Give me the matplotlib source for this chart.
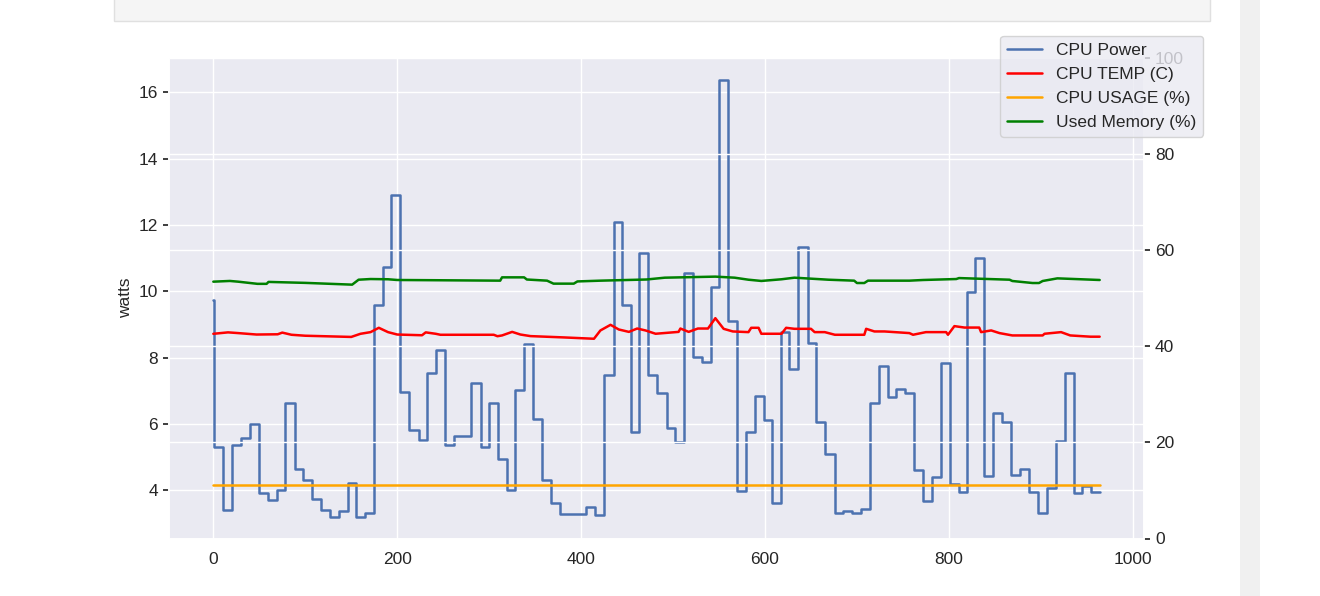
import matplotlib
matplotlib.use('Agg')
import matplotlib.pyplot as plt
import seaborn as sns
from matplotlib.patches import Rectangle

# CPU power (watts), step starts and values
power_x = [0, 1, 10.5, 20.6, 29.6, 40.1, 49.6, 59.4, 69.1, 78.5, 88.6, 98, 107.8,
           117.2, 127, 136.7, 146.1, 155.5, 165.3, 174.7, 184.4, 193.4, 203.5,
           213.3, 223.4, 232.8, 241.8, 251.6, 261.5, 280.6, 290.7, 300.1, 309.5,
           319.6, 328.6, 338.4, 347.8, 357.5, 367.3, 376.7, 405.6, 415.4, 425.2,
           435.3, 444.7, 454.1, 463.5, 472.9, 483, 493.2, 502.6, 512, 521.5,
           531.2, 541, 550.3, 559.4, 569.8, 579.2, 589, 598.7, 608.1, 617.9,
           626.5, 635.9, 646.8, 655.8, 665.6, 675.7, 684.7, 694.9, 704.3, 713.7,
           723.9, 733.6, 742.7, 752.7, 762.1, 771.5, 781.6, 791, 800.8, 810.6,
           819.6, 828.6, 838.4, 848.2, 857.5, 867.7, 877.1, 887.2, 896.6, 906.4,
           916.5, 925.9, 935.7, 945, 954.5, 964]
power_w = [9.73, 5.30, 3.40, 5.35, 5.58, 6.00, 3.90, 3.70, 4.00, 6.63, 4.64, 4.30,
           3.72, 3.40, 3.20, 3.38, 4.22, 3.20, 3.30, 9.58, 10.74, 12.92, 6.95,
           5.80, 5.50, 7.54, 8.23, 5.35, 5.62, 7.24, 5.30, 6.63, 4.95, 4.00, 7.03,
           8.41, 6.16, 4.30, 3.62, 3.28, 3.50, 3.25, 7.46, 12.09, 9.58, 5.75,
           11.15, 7.46, 6.94, 5.89, 5.44, 10.54, 8.03, 7.86, 10.14, 16.38, 9.09,
           3.97, 5.75, 6.83, 6.13, 3.62, 8.76, 7.66, 11.35, 8.43, 6.05, 5.10,
           3.30, 3.38, 3.32, 3.42, 6.63, 7.74, 6.81, 7.06, 6.93, 4.62, 3.68, 4.40,
           7.84, 4.18, 3.95, 9.98, 11.00, 4.43, 6.34, 6.05, 4.45, 4.65, 3.95, 3.32,
           4.05, 5.48, 7.54, 3.92, 4.12, 3.95, 3.95]

# CPU temperature (C)
temp_x = [0, 16, 27, 47, 70, 75, 85, 100, 150, 160, 171, 180, 190, 200, 227, 231,
          242, 247, 305, 309, 314, 325, 334, 345, 381, 414, 421, 432, 441, 452,
          461, 470, 481, 506, 508, 517, 527, 538, 546, 555, 565, 582, 585, 593,
          596, 618, 623, 632, 650, 654, 665, 676, 708, 710, 719, 730, 757, 761,
          775, 797, 799, 806, 817, 833, 835, 846, 855, 869, 902, 904, 922, 932,
          954, 964]
temp_c = [42.6, 42.9, 42.75, 42.45, 42.5, 42.85, 42.4, 42.2, 41.95, 42.6, 42.95,
          43.85, 42.95, 42.45, 42.3, 42.9, 42.6, 42.4, 42.4, 42.1, 42.26, 43.0,
          42.45, 42.12, 41.85, 41.57, 43.3, 44.47, 43.5, 43.0, 43.7, 43.3, 42.61,
          43.0, 43.7, 43.0, 43.7, 43.7, 45.85, 43.64, 43.09, 42.95, 43.85,
          43.85, 42.61, 42.61, 43.85, 43.64, 43.64, 42.95, 42.95, 42.4, 42.4,
          43.64, 43.09, 43.09, 42.75, 42.4, 42.95, 42.95, 42.4, 44.2, 43.9,
          43.9, 42.95, 43.3, 42.75, 42.26, 42.26, 42.61, 42.95, 42.26, 42.0, 42.0]

# CPU usage (%)
usage_x = [0, 964]
usage_p = [11.05, 11.05]

# Used memory (%)
mem_x = [0, 18, 27, 48, 58, 60, 100, 151, 158, 171, 190, 200, 242, 312, 314, 338,
         341, 363, 370, 392, 396, 421, 471, 491, 546, 567, 582, 596, 618, 632,
         669, 697, 700, 708, 712, 757, 772, 808, 811, 866, 869, 891, 898, 902,
         918, 964]
mem_p = [53.45, 53.6, 53.45, 53.0, 53.0, 53.4, 53.2, 52.83, 53.86, 54.0, 53.95,
         53.8, 53.75, 53.66, 54.35, 54.35, 53.9, 53.66, 53.04, 53.04, 53.5, 53.66,
         53.9, 54.28, 54.5, 54.28, 53.86, 53.6, 53.95, 54.28, 53.86, 53.66, 53.17,
         53.17, 53.66, 53.66, 53.8, 54.0, 54.2, 53.86, 53.59, 53.17, 53.17, 53.59,
         54.14, 53.8]

sns.set_theme(style='darkgrid')
plt.rcParams['font.family'] = ['Liberation Sans', 'DejaVu Sans']

fig = plt.figure(figsize=(13.2, 5.96), dpi=100)

# notebook cell remnants around the figure
fig.patches.append(Rectangle((114 / 1320, 1 - 21 / 596), 1096 / 1320, 30 / 596,
                             transform=fig.transFigure, facecolor='#f5f5f5',
                             edgecolor='#e0e0e0', linewidth=1))
fig.patches.append(Rectangle((1240 / 1320, 0), 20 / 1320, 1,
                             transform=fig.transFigure, facecolor='#f0f0f0',
                             edgecolor='none'))

ax1 = fig.add_axes([169 / 1320, 1 - 538.5 / 596, 975 / 1320, 480.5 / 596])
l1, = ax1.step(power_x, power_w, where='post', color='#4C72B0', lw=1.8,
               label='CPU Power')
ax1.set_ylabel('watts', fontsize=12.5, color='.15')
ax1.set_yticks([4, 6, 8, 10, 12, 14, 16])
ax1.set_xticks([0, 200, 400, 600, 800, 1000])
ax1.tick_params(axis='y', left=True, length=4.5, width=1.25, color='.15',
                labelsize=12.5, labelcolor='.15')
ax1.tick_params(axis='x', labelsize=12.5, labelcolor='.15')

ax2 = ax1.twinx()
l2, = ax2.plot(temp_x, temp_c, color='red', lw=1.8, label='CPU TEMP (C)')
l3, = ax2.plot(usage_x, usage_p, color='orange', lw=1.8, label='CPU USAGE (%)')
l4, = ax2.plot(mem_x, mem_p, color='green', lw=1.8, label='Used Memory (%)')
ax2.set_ylim(0, 100)
ax2.set_yticks([0, 20, 40, 60, 80, 100])
ax2.tick_params(axis='y', right=True, length=4.5, width=1.25, color='.15',
                labelsize=12.5, labelcolor='.15')

fig.legend(handles=[l1, l2, l3, l4], loc='upper right',
           bbox_to_anchor=(1203 / 1320, 1 - 36 / 596), borderaxespad=0,
           fontsize=12.5)

fig.savefig('out.png', dpi=100)
